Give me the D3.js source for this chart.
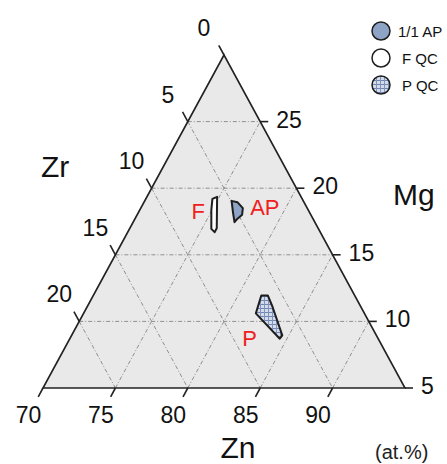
<!DOCTYPE html>
<html>
<head>
<meta charset="utf-8">
<script src="https://cdn.jsdelivr.net/npm/d3@7"></script>
<style>
  body { margin: 0; background: #fff; }
  svg { display: block; font-family: "Liberation Sans", Arial, sans-serif; }
</style>
</head>
<body>
<div id="chart"></div>
<script>
// Tick values on the three sides (at.%)
var znTicks = [70, 75, 80, 85, 90];
var zrTicks = [0, 5, 10, 15, 20];
var mgTicks = [5, 10, 15, 20, 25];

// Region outlines, as [Zn, Mg, Zr]
var fQC  = [[74.6, 19.2, 6.2], [74.85, 19.35, 5.8], [76.0, 17.0, 7.0],
            [76.0, 16.7, 7.3], [75.65, 16.95, 7.4], [74.95, 18.35, 6.7]];
var apPhase = [[76.0, 19.05, 4.95], [76.45, 18.95, 4.6], [77.05, 18.5, 4.45],
               [77.25, 18.0, 4.75], [77.05, 17.65, 5.3], [77.0, 17.45, 5.55],
               [76.55, 18.15, 5.3]];
var pQC  = [[81.6, 11.95, 6.45], [82.05, 11.95, 6.0], [82.8, 11.1, 6.1],
            [84.55, 8.95, 6.5], [84.5, 8.7, 6.8], [81.9, 10.6, 7.5]];

var regionNames  = ["F", "AP", "P"];
var legendLabels = ["1/1 AP", "F QC", "P QC"];

var width = 447, height = 464;

var svg = d3.select("#chart").append("svg")
    .attr("width", width)
    .attr("height", height);

// hatched fill for P QC
var defs = svg.append("defs");
var pat = defs.append("pattern")
    .attr("id", "plaid")
    .attr("patternUnits", "userSpaceOnUse")
    .attr("width", 4).attr("height", 4);
pat.append("rect").attr("width", 4).attr("height", 4).attr("fill", "#d4dcec");
pat.append("rect").attr("x", 0).attr("y", 0).attr("width", 4).attr("height", 1).attr("fill", "#6f86b3");
pat.append("rect").attr("x", 0).attr("y", 0).attr("width", 1).attr("height", 4).attr("fill", "#7f93bb");

//Scales: base is Zn (Mg = 5), Mg goes up and shears to the right
var znX = d3.scaleLinear().domain([70, 95]).range([43, 405]);
var mgY = d3.scaleLinear().domain([5, 30]).range([388, 55]);
var mgShift = d3.scaleLinear().domain([5, 30]).range([0, 181]);

function proj(zn, mg) {
    return [znX(zn) + mgShift(mg), mgY(mg)];
}

var A = proj(70, 30), BL = proj(70, 5), BR = proj(95, 5);

// unit vectors for ticks
function unit(p, q) {
    var dx = q[0] - p[0], dy = q[1] - p[1], n = Math.sqrt(dx*dx + dy*dy);
    return [dx/n, dy/n];
}
var downLeft = unit(A, BL);   // along Zn = const
var upLeft   = unit(BR, A);   // along Zr = const

// triangle
svg.append("path")
    .attr("d", "M" + A + "L" + BL + "L" + BR + "Z")
    .attr("fill", "#e9e9e9")
    .attr("stroke", "none");

// grid
var grid = svg.append("g")
    .attr("stroke", "#8f8f8f")
    .attr("stroke-width", 1)
    .attr("stroke-dasharray", "4,2,1,2")
    .attr("fill", "none");

mgTicks.filter(function(m) {return m > 5;}).forEach(function(m) {
    var p = proj(70, m), q = proj(100 - m, m);
    grid.append("line").attr("x1", p[0]).attr("y1", p[1]).attr("x2", q[0]).attr("y2", q[1]);
});
znTicks.filter(function(z) {return z > 70;}).forEach(function(z) {
    var p = proj(z, 5), q = proj(z, 100 - z);
    grid.append("line").attr("x1", p[0]).attr("y1", p[1]).attr("x2", q[0]).attr("y2", q[1]);
});
zrTicks.filter(function(r) {return r > 0;}).forEach(function(r) {
    var p = proj(70, 30 - r), q = proj(95 - r, 5);
    grid.append("line").attr("x1", p[0]).attr("y1", p[1]).attr("x2", q[0]).attr("y2", q[1]);
});

// edges
svg.append("path")
    .attr("d", "M" + A + "L" + BL + "L" + BR + "Z")
    .attr("fill", "none")
    .attr("stroke", "#222")
    .attr("stroke-width", 1.6);

var ticks = svg.append("g").attr("stroke", "#222").attr("stroke-width", 1.6);
var labels = svg.append("g").attr("fill", "#111").attr("font-size", 23);

// Zn ticks (bottom)
znTicks.forEach(function(z) {
    var p = proj(z, 5);
    ticks.append("line")
        .attr("x1", p[0]).attr("y1", p[1])
        .attr("x2", p[0] + 10*downLeft[0]).attr("y2", p[1] + 10*downLeft[1]);
    labels.append("text")
        .attr("x", p[0] - 14.5).attr("y", p[1] + 35)
        .attr("text-anchor", "middle")
        .text(z);
});

// Zr ticks (left)
zrTicks.forEach(function(r) {
    var p = proj(70, 30 - r);
    ticks.append("line")
        .attr("x1", p[0]).attr("y1", p[1])
        .attr("x2", p[0] + 11*upLeft[0]).attr("y2", p[1] + 11*upLeft[1]);
    labels.append("text")
        .attr("x", p[0] - 20).attr("y", p[1] - 19)
        .attr("text-anchor", "middle")
        .text(r);
});

// Mg ticks (right)
mgTicks.forEach(function(m) {
    var p = proj(100 - m, m);
    ticks.append("line")
        .attr("x1", p[0]).attr("y1", p[1])
        .attr("x2", p[0] + 8).attr("y2", p[1]);
    labels.append("text")
        .attr("x", p[0] + 16).attr("y", p[1] + 6)
        .attr("text-anchor", "start")
        .text(m);
});

// axis titles
svg.append("text").attr("x", 238).attr("y", 458).attr("text-anchor", "middle")
    .attr("font-size", 30).attr("fill", "#111").text("Zn");
svg.append("text").attr("x", 41).attr("y", 177)
    .attr("font-size", 30).attr("fill", "#111").text("Zr");
svg.append("text").attr("x", 393).attr("y", 205)
    .attr("font-size", 30).attr("fill", "#111").text("Mg");
svg.append("text").attr("x", 375).attr("y", 459)
    .attr("font-size", 20).attr("fill", "#222").text("(at.%)");

// regions
var line = d3.line()
    .x(function(d) {return proj(d[0], d[1])[0];})
    .y(function(d) {return proj(d[0], d[1])[1];})
    .curve(d3.curveLinearClosed);

var regions = [fQC, apPhase, pQC];
var fills = ["#ffffff", "#8ea4c7", "url(#plaid)"];
var labelOffset = [[-16, 5], [28, 5], [-19, 31]];

regions.forEach(function(r, i) {
    svg.append("path")
        .attr("d", line(r))
        .attr("fill", fills[i])
        .attr("stroke", "#1e1e1e")
        .attr("stroke-width", 2)
        .attr("stroke-linejoin", "round");

    var c = d3.polygonCentroid(r.map(function(d) {return proj(d[0], d[1]);}));
    svg.append("text")
        .attr("x", c[0] + labelOffset[i][0])
        .attr("y", c[1] + labelOffset[i][1])
        .attr("font-size", 22)
        .attr("fill", "#f02020")
        .attr("text-anchor", "middle")
        .text(regionNames[i]);
});

// legend
var legendFills = ["#8ea4c7", "#ffffff", "url(#plaid)"];
legendLabels.forEach(function(t, i) {
    var cy = 31 + i*27;
    svg.append("circle")
        .attr("cx", 381).attr("cy", cy).attr("r", 9)
        .attr("fill", legendFills[i])
        .attr("stroke", "#1e1e1e")
        .attr("stroke-width", 1.5);
    svg.append("text")
        .attr("x", i == 0 ? 398 : 402).attr("y", cy + 6)
        .attr("font-size", 15)
        .attr("fill", "#111")
        .text(t);
});
</script>
</body>
</html>
